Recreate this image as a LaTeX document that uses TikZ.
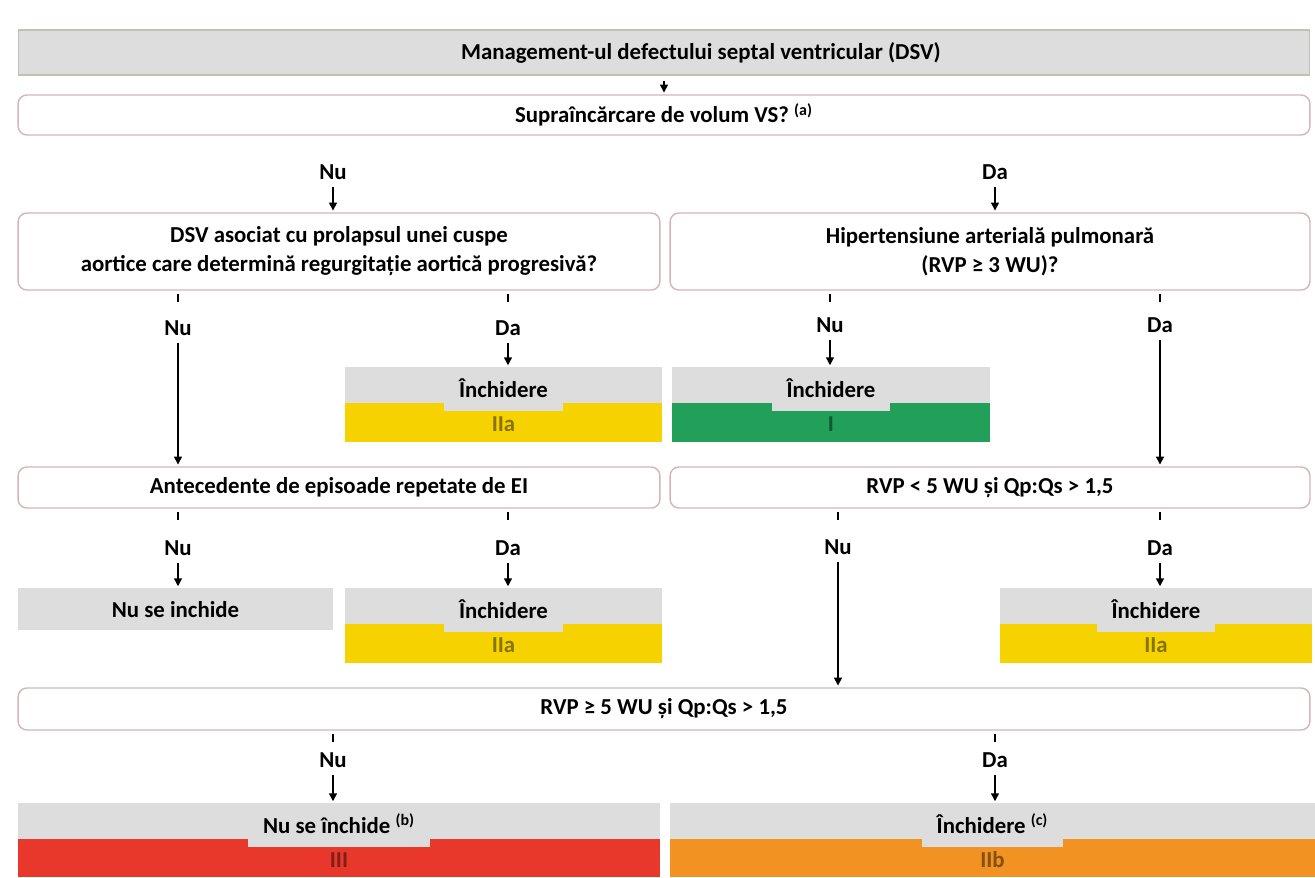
\documentclass[tikz,border=0pt]{standalone}
\usepackage{fontspec}
\setmainfont{Carlito}
\usetikzlibrary{arrows.meta,positioning,calc}
\definecolor{dsvgrey}{RGB}{221,221,221}
\definecolor{dsvframe}{RGB}{188,196,172}
\definecolor{dsvpink}{RGB}{212,180,186}
\definecolor{dsvyellow}{RGB}{246,210,0}
\definecolor{dsvgreen}{RGB}{34,160,90}
\definecolor{dsvred}{RGB}{232,56,44}
\definecolor{dsvorange}{RGB}{242,146,34}

% recommendation box: name, x, top y, width, height, colour, text, class
\newcommand{\recbox}[8]{%
  \node[recbase,fill=#6,minimum width=#4,minimum height=#5] (#1) at (#2,#3) {};
  \fill[dsvgrey] (#1.north west) rectangle ($(#1.north east)+(0,36)$);
  \node[tabtxt] (#1t) at ($(#1.north)+(0,30)$) {#7};
  \node[cls,text=#6!55!black] (#1c) at ($(#1.north)+(0,64)$) {#8};
}

\begin{document}
\begin{tikzpicture}[x=0.02cm,y=-0.02cm,
    font=\fontsize{13}{16.5}\selectfont\bfseries,
    head/.style={draw=dsvframe,fill=dsvgrey,minimum width=25.84cm,minimum height=0.9cm,line width=0.6pt},
    q/.style={draw=dsvpink,fill=white,rounded corners=5pt,align=center,line width=0.8pt},
    lbl/.style={inner sep=1pt},
    recbase/.style={inner sep=0pt,anchor=north},
    tabtxt/.style={fill=dsvgrey,anchor=base,inner xsep=8.5pt,inner ysep=0pt,text depth=8pt},
    cls/.style={anchor=base,inner sep=0pt},
    arr/.style={-{Triangle[width=4.5pt,length=4.5pt]},line width=0.8pt,shorten <=3pt,shorten >=1pt},
    stub/.style={line width=0.8pt}]
  \fill[white] (0,0) rectangle (1315,877);
  \useasboundingbox (0,0) rectangle (1315,877);

  % top
  \node[head,label={[xshift=21pt]center:Management-ul defectului septal ventricular (DSV)}] (title) at (664,52.5) {};
  \node[q,minimum width=25.84cm,minimum height=0.8cm] (q0) at (664,115) {Supraîncărcare de volum VS? \textsuperscript{(a)}};
  \node[lbl] (nu0) at (333,172) {Nu};
  \node[lbl] (da0) at (995,172) {Da};

  % second row
  \node[q,minimum width=12.84cm,minimum height=1.54cm] (q1a) at (339,251.5) {DSV asociat cu prolapsul unei cuspe\\aortice care determină regurgitație aortică progresivă?};
  \node[q,minimum width=12.8cm,minimum height=1.54cm] (q1b) at (990,251.5) {Hipertensiune arterială pulmonară\\(RVP ≥ 3 WU)?};
  \node[lbl] (nu1a) at (178,328) {Nu};
  \node[lbl] (da1a) at (508,328) {Da};
  \node[lbl] (nu1b) at (830,325) {Nu};
  \node[lbl] (da1b) at (1160,325) {Da};
  \recbox{rec1}{503.5}{367}{6.34cm}{1.5cm}{dsvyellow}{Închidere}{IIa}
  \recbox{rec2}{831}{367}{6.36cm}{1.5cm}{dsvgreen}{Închidere}{I}

  % third row
  \node[q,minimum width=12.84cm,minimum height=0.82cm] (q2a) at (339,487.5) {Antecedente de episoade repetate de EI};
  \node[q,minimum width=12.8cm,minimum height=0.82cm] (q2b) at (990,487.5) {RVP < 5 WU și Qp:Qs > 1,5};
  \node[lbl] (nu2a) at (178,548) {Nu};
  \node[lbl] (da2a) at (508,548) {Da};
  \node[lbl] (nu2b) at (838,547) {Nu};
  \node[lbl] (da2b) at (1160,548) {Da};
  \node[recbase,fill=dsvgrey,minimum width=6.3cm,minimum height=0.84cm] (rec3) at (175.5,588) {Nu se inchide};
  \recbox{rec4}{503.5}{588}{6.34cm}{1.5cm}{dsvyellow}{Închidere}{IIa}
  \recbox{rec5}{1156}{588}{6.24cm}{1.5cm}{dsvyellow}{Închidere}{IIa}

  % last row
  \node[q,minimum width=25.84cm,minimum height=0.84cm] (q3) at (664,709) {RVP ≥ 5 WU și Qp:Qs > 1,5};
  \node[lbl] (nu3) at (333,760) {Nu};
  \node[lbl] (da3) at (995,760) {Da};
  \recbox{rec6}{339}{803}{12.84cm}{1.48cm}{dsvred}{Nu se închide \textsuperscript{(b)}}{III}
  \recbox{rec7}{992.5}{803}{12.9cm}{1.48cm}{dsvorange}{Închidere \textsuperscript{(c)}}{IIb}

  % stubs under the questions
  \foreach \n in {nu1a,da1a} \draw[stub] ($(q1a.south -| \n)+(0,3)$) -- ++(0,8);
  \foreach \n in {nu1b,da1b} \draw[stub] ($(q1b.south -| \n)+(0,3)$) -- ++(0,8);
  \foreach \n in {nu2a,da2a} \draw[stub] ($(q2a.south -| \n)+(0,3)$) -- ++(0,8);
  \foreach \n in {nu2b,da2b} \draw[stub] ($(q2b.south -| \n)+(0,3)$) -- ++(0,8);
  \foreach \n in {nu3,da3} \draw[stub] ($(q3.south -| \n)+(0,3)$) -- ++(0,8);

  % arrows
  \draw[arr] (title) -- (q0);
  \draw[arr] (nu0) -- (q1a.north -| nu0);
  \draw[arr] (da0) -- (q1b.north -| da0);
  \draw[arr] (nu1a) -- (q2a.north -| nu1a);
  \draw[arr] (da1a) -- (rec1.north -| da1a);
  \draw[arr] (nu1b) -- (rec2.north -| nu1b);
  \draw[arr] (da1b) -- (q2b.north -| da1b);
  \draw[arr] (nu2a) -- (rec3.north -| nu2a);
  \draw[arr] (da2a) -- (rec4.north -| da2a);
  \draw[arr] (nu2b) -- (q3.north -| nu2b);
  \draw[arr] (da2b) -- (rec5.north -| da2b);
  \draw[arr] (nu3) -- (rec6.north -| nu3);
  \draw[arr] (da3) -- (rec7.north -| da3);
\end{tikzpicture}
\end{document}
